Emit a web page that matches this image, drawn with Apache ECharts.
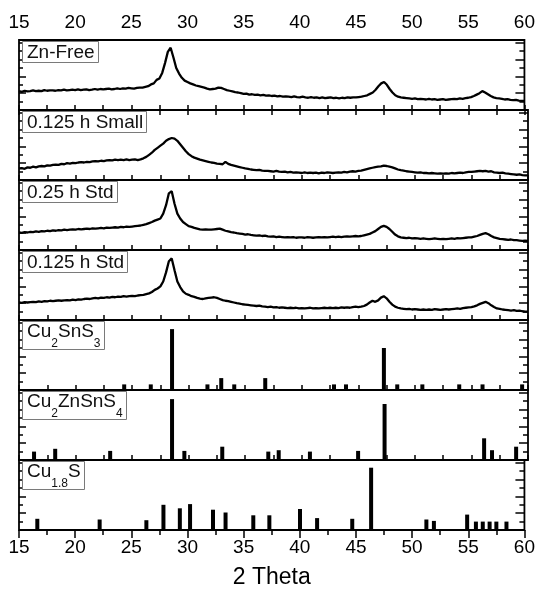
<!DOCTYPE html>
<html>
<head>
<meta charset="utf-8">
<script src="https://cdn.jsdelivr.net/npm/echarts@6/dist/echarts.min.js"></script>
<style>
  html, body { margin: 0; padding: 0; background: #fff; }
  #chart { width: 538px; height: 591px; }
</style>
</head>
<body>
<div id="chart"></div>
<script>
// Scan grid of the measured patterns (degrees 2θ)
const thetaStart = 15;
const thetaStep = 0.25;

// Measured XRD intensities, normalised to each panel's height (%)
const znFree = [
  27, 26, 27.5, 26.5,  27, 28, 27, 27.5,  27, 28.5, 27.5, 28,  28, 27.5, 28.5, 28,
  29, 28, 28.5, 29,  28.5, 29.5, 28.5, 29,  29.5, 28.5, 29, 30,  29, 30, 29.5, 30,
  30.5, 29.5, 30, 31,  30, 31, 30.5, 31.5,  31, 30.5, 31.5, 32,  32, 33, 34, 36.5,
  38, 43, 45, 53,  67, 83, 89, 75,  60, 52, 46, 42,  40, 38, 36.5, 35,
  34, 33, 32, 30.5,  29.5, 30, 30.5, 32,  31.5, 30, 28.5, 27.5,  26.5, 25.5, 25, 24,
  23, 23.5, 22, 22.5,  21.5, 22, 21, 21.5,  20.5, 21, 20, 20.5,  19.5, 20, 19, 19.5,
  19, 18.5, 19.5, 18.5,  18, 19, 18, 17.5,  18.5, 17.5, 18, 17,  18, 17, 17.5, 18,
  17, 17.5, 16.5, 17.5,  17, 18, 17.5, 18,  18, 18.5, 19, 20,  21, 23, 25, 29,
  34, 38, 40, 36,  30, 25, 21, 19,  18, 17.5, 17, 16.5,  16, 16.5, 15.5, 16,
  15.5, 15, 16, 15,  15.5, 14.5, 15, 15.5,  14.5, 15, 15.5, 16,  15.5, 16.5, 16, 17,
  17.5, 18.5, 20, 22,  24, 27, 25, 22.5,  20, 18, 17, 16.5,  16, 15, 15.5, 14.5,
  14, 14.5, 13.5, 13,  13
];
const small0125h = [
  16.5, 17, 16, 18,  17.5, 19, 18, 19.5,  20, 19.5, 21, 20.5,  21.5, 22, 21.5, 23,
  22.5, 24, 23.5, 24.5,  24, 25, 25.5, 25,  26, 25.5, 26.5, 27,  26.5, 27.5, 27, 28,
  28.5, 28, 29, 28.5,  29, 28.5, 29.5, 28.5,  29, 29.5, 28.5, 29.5,  31, 33, 36, 39,
  43, 46, 49, 52,  56, 58.5, 60, 59,  56, 51, 46, 41,  37, 34, 32, 30.5,
  29, 28, 27, 26,  25, 24.5, 23.5, 23,  22.5, 26, 23, 21.5,  20.5, 19.5, 18.5, 17.5,
  16.5, 16, 15, 14.5,  14, 14.5, 13.5, 13,  13, 12.5, 12, 13,  12, 11.5, 12, 11,
  11.5, 10.5, 11, 10.5,  10, 11, 10, 10.5,  10, 10.5, 9.5, 10.5,  10, 11, 10.5, 10,
  10.5, 11, 10.5, 11.5,  11, 12, 12.5, 12,  13, 13.5, 14.5, 15.5,  16.5, 17.5, 18.5, 19,
  19.5, 20.5, 20, 19,  18, 16.5, 15, 14,  13.5, 12.5, 12, 11.5,  11, 10.5, 11, 10,
  10, 9.5, 10, 9.5,  9, 9.5, 9, 9.5,  9, 10, 9.5, 10,  10.5, 10, 11, 11.5,
  11.5, 12, 12.5, 13,  12.5, 13, 12, 12.5,  11, 10.5, 10, 10.5,  9.5, 9, 8.5, 8,
  7.5, 8, 7, 6.5,  6.5
];
const std025h = [
  25, 24.5, 25.5, 25,  26, 25.5, 26.5, 26,  27, 26.5, 27.5, 27,  28, 27.5, 28.5, 28,
  29, 28.5, 29, 29.5,  29, 30, 29.5, 30,  30.5, 30, 31, 30.5,  31, 31.5, 31, 32,
  31.5, 32, 32.5, 32,  33, 32.5, 33.5, 33,  33.5, 34, 34.5, 35,  36, 37, 38.5, 40,
  42, 43.5, 45, 52,  64, 81, 84, 66,  52, 45, 40, 37,  34, 33, 31.5, 30.5,
  29.5, 29, 29.5, 29,  29, 29.5, 30, 30.5,  29, 27.5, 26.5, 25.5,  25, 24, 23.5, 23,
  22, 22.5, 21.5, 21,  20.5, 21, 20, 20.5,  19.5, 19, 19.5, 18.5,  19, 18.5, 18, 18.5,
  18, 18.5, 17.5, 18,  18, 17.5, 18.5, 18,  17.5, 18, 18.5, 18,  18.5, 18, 18.5, 19,
  18.5, 19, 18.5, 19,  19.5, 19, 19.5, 20,  19.5, 20, 21, 22,  23, 25, 27, 30,
  33, 34.5, 33, 30,  26, 22, 19.5, 18,  17.5, 17, 17.5, 16.5,  17, 16.5, 16, 16.5,
  16, 15.5, 16, 16.5,  16, 15.5, 16, 15.5,  16, 16.5, 16, 17,  16.5, 17, 17.5, 18,
  18, 19, 20, 21.5,  23, 24, 22.5, 20,  18, 17, 16, 15.5,  15, 14.5, 15, 14,
  14, 13.5, 13, 13.5,  13
];
const std0125h = [
  25, 24.5, 25.5, 25,  25.5, 26, 25.5, 26.5,  26, 27, 26.5, 27.5,  27, 27.5, 28, 27.5,
  28, 28.5, 28, 29,  28.5, 29.5, 29, 30,  30.5, 30, 31, 31.5,  31, 32, 31.5, 32.5,
  32, 33, 32.5, 33.5,  33, 34, 33.5, 34,  34.5, 34, 35, 35.5,  36, 37, 38, 40,
  43, 45, 48, 55,  68, 84, 88, 71,  55, 47, 41, 37.5,  36, 34, 33, 31.5,
  30.5, 30, 31, 31.5,  32, 32.5, 31.5, 30,  28.5, 27.5, 27, 26,  25, 24, 23.5, 22.5,
  22, 21.5, 21, 20.5,  20, 20.5, 19.5, 19,  18.5, 19, 18, 18.5,  17.5, 18, 17.5, 17,
  17.5, 17, 17.5, 16.5,  17, 16.5, 17, 17.5,  16.5, 17, 16.5, 17,  17.5, 17, 17.5, 17,
  17.5, 17, 18, 17.5,  18, 17.5, 18.5, 19,  18.5, 19, 20, 22,  25, 27.5, 26, 28,
  32, 34, 31, 26,  22, 19, 17.5, 16.5,  16, 15.5, 16, 15,  15.5, 15, 14.5, 15,
  14.5, 15, 14.5, 15.5,  15, 14.5, 15, 15.5,  15, 15.5, 16, 16.5,  16, 17, 17.5, 18,
  18.5, 19.5, 21, 23,  24.5, 26, 24, 21,  18.5, 16.5, 16, 15,  14.5, 14, 13.5, 14,
  13, 13.5, 12.5, 12,  12
];

// Reference stick patterns: peak positions (2θ) and relative intensities (%)
const cu2sns3Pos = [24.3, 26.65, 28.53, 31.66, 32.88, 34.03, 36.77, 42.85, 43.91, 47.26, 48.44, 50.66, 53.92, 55.98, 59.48];
const cu2sns3Int = [8, 8, 87, 8, 17, 8, 17, 8, 8, 60, 8, 8, 8, 8, 8];
const cztsPos = [16.33, 18.2, 23.06, 28.53, 29.62, 32.97, 37.04, 37.96, 40.72, 44.98, 47.32, 56.12, 56.82, 58.95];
const cztsInt = [12, 16, 13, 87, 13, 19, 12, 14, 12, 13, 80, 31, 14, 19];
const cu18sPos = [16.63, 22.18, 26.34, 27.86, 29.32, 30.23, 32.27, 33.39, 35.86, 37.29, 40.02, 41.54, 44.67, 46.35, 51.27, 51.94, 54.9, 55.68, 56.29, 56.9, 57.5, 58.4];
const cu18sInt = [16, 15, 14, 36, 31, 37, 29, 25, 21, 21, 30, 17, 16, 89, 15, 13, 22, 12, 12, 12, 12, 12];

// Panel captions, top to bottom ({s|..} = subscript, {z|} = strut for the subscript line)
const panelLabels = [
  'Zn-Free',
  '0.125 h Small',
  '0.25 h Std',
  '0.125 h Std',
  '{m|Cu}{s|2}{m|SnS}{s|3}{z|\u00a0}',
  '{m|Cu}{s|2}{m|ZnSnS}{s|4}{z|\u00a0}',
  '{m|Cu}{s|1.8}{m|S}{z|\u00a0}'
];

const scans = [znFree, small0125h, std025h, std0125h];
const sticks = [
  [cu2sns3Pos, cu2sns3Int],
  [cztsPos, cztsInt],
  [cu18sPos, cu18sInt]
];

const FONT = '"Liberation Sans", Arial, sans-serif';
const INK = '#000';
const PANEL_TOP = 40;
const PANEL_H = 70;
const N = 7;

const grid = [], xAxis = [], yAxis = [], series = [], title = [];

for (let i = 0; i < N; i++) {
  const top = PANEL_TOP + i * PANEL_H;
  const last = i === N - 1;
  grid.push({
    left: 19, width: 509, top: top, height: PANEL_H,
    show: true, borderColor: INK, borderWidth: 1.8, backgroundColor: 'transparent'
  });
  xAxis.push({
    type: 'value', gridIndex: i, position: 'bottom',
    min: 15, max: 60, interval: 5,
    axisLine: { show: false },
    axisTick: { show: true, inside: !last, length: last ? 8 : 5, lineStyle: { color: INK, width: 1.5 } },
    minorTick: { show: true, splitNumber: 2, length: 5, lineStyle: { color: INK, width: 1.5 } },
    axisLabel: { show: last, fontSize: 19, color: INK, fontFamily: FONT, margin: 8 },
    splitLine: { show: false }, minorSplitLine: { show: false },
    name: last ? '2 Theta' : '', nameLocation: 'middle', nameGap: 36,
    nameTextStyle: { fontSize: 23, color: INK, fontFamily: FONT }
  });
  const yBase = {
    type: 'value', gridIndex: i, min: 0, max: 100, interval: 24,
    axisLine: { show: false }, axisLabel: { show: false },
    splitLine: { show: false }, minorSplitLine: { show: false }
  };
  yAxis.push(Object.assign({}, yBase, {
    position: 'left',
    axisTick: { show: true, inside: true, length: 7, lineStyle: { color: INK, width: 1.5 } },
    minorTick: { show: true, splitNumber: 2, length: 4, lineStyle: { color: INK, width: 1.5 } }
  }));
  yAxis.push(Object.assign({}, yBase, {
    position: 'right',
    axisTick: { show: true, inside: true, length: 9, lineStyle: { color: INK, width: 1.5 } },
    minorTick: { show: true, splitNumber: 2, length: 5, lineStyle: { color: INK, width: 1.5 } }
  }));

  if (i < scans.length) {
    series.push({
      type: 'line', xAxisIndex: i, yAxisIndex: 2 * i,
      data: scans[i].map((v, k) => [thetaStart + k * thetaStep, v]),
      showSymbol: false, symbol: 'none',
      lineStyle: { color: INK, width: 2.3 },
      animation: false
    });
  } else {
    const [pos, inten] = sticks[i - scans.length];
    series.push({
      type: 'bar', xAxisIndex: i, yAxisIndex: 2 * i,
      data: pos.map((p, k) => [p, inten[k]]),
      barWidth: 4,
      itemStyle: { color: INK },
      animation: false
    });
  }

  title.push({
    text: panelLabels[i],
    left: 22, top: top + 1,
    padding: [1, 4, 0, 5],
    backgroundColor: '#fff', borderColor: '#7a7a7a', borderWidth: 1,
    textStyle: {
      fontFamily: FONT, fontSize: 19, fontWeight: 'normal', color: '#111', lineHeight: 21,
      rich: {
        m: { fontFamily: FONT, fontSize: 19, color: '#111', lineHeight: 21, verticalAlign: 'top' },
        s: { fontFamily: FONT, fontSize: 12, color: '#111', lineHeight: 15, verticalAlign: 'bottom' },
        z: { fontFamily: FONT, fontSize: 1, lineHeight: 28, verticalAlign: 'bottom' }
      }
    }
  });
}

// Top scale of the first panel
xAxis.push({
  type: 'value', gridIndex: 0, position: 'top',
  min: 15, max: 60, interval: 5,
  axisLine: { show: false },
  axisTick: { show: true, inside: true, length: 5, lineStyle: { color: INK, width: 1.5 } },
  minorTick: { show: true, splitNumber: 2, length: 5, lineStyle: { color: INK, width: 1.5 } },
  axisLabel: { show: true, fontSize: 19, color: INK, fontFamily: FONT, margin: 8 },
  splitLine: { show: false }, minorSplitLine: { show: false }
});

const chart = echarts.init(document.getElementById('chart'), null, { renderer: 'canvas' });
chart.setOption({
  backgroundColor: '#fff',
  animation: false,
  title: title,
  grid: grid,
  xAxis: xAxis,
  yAxis: yAxis,
  series: series
});
</script>
</body>
</html>
